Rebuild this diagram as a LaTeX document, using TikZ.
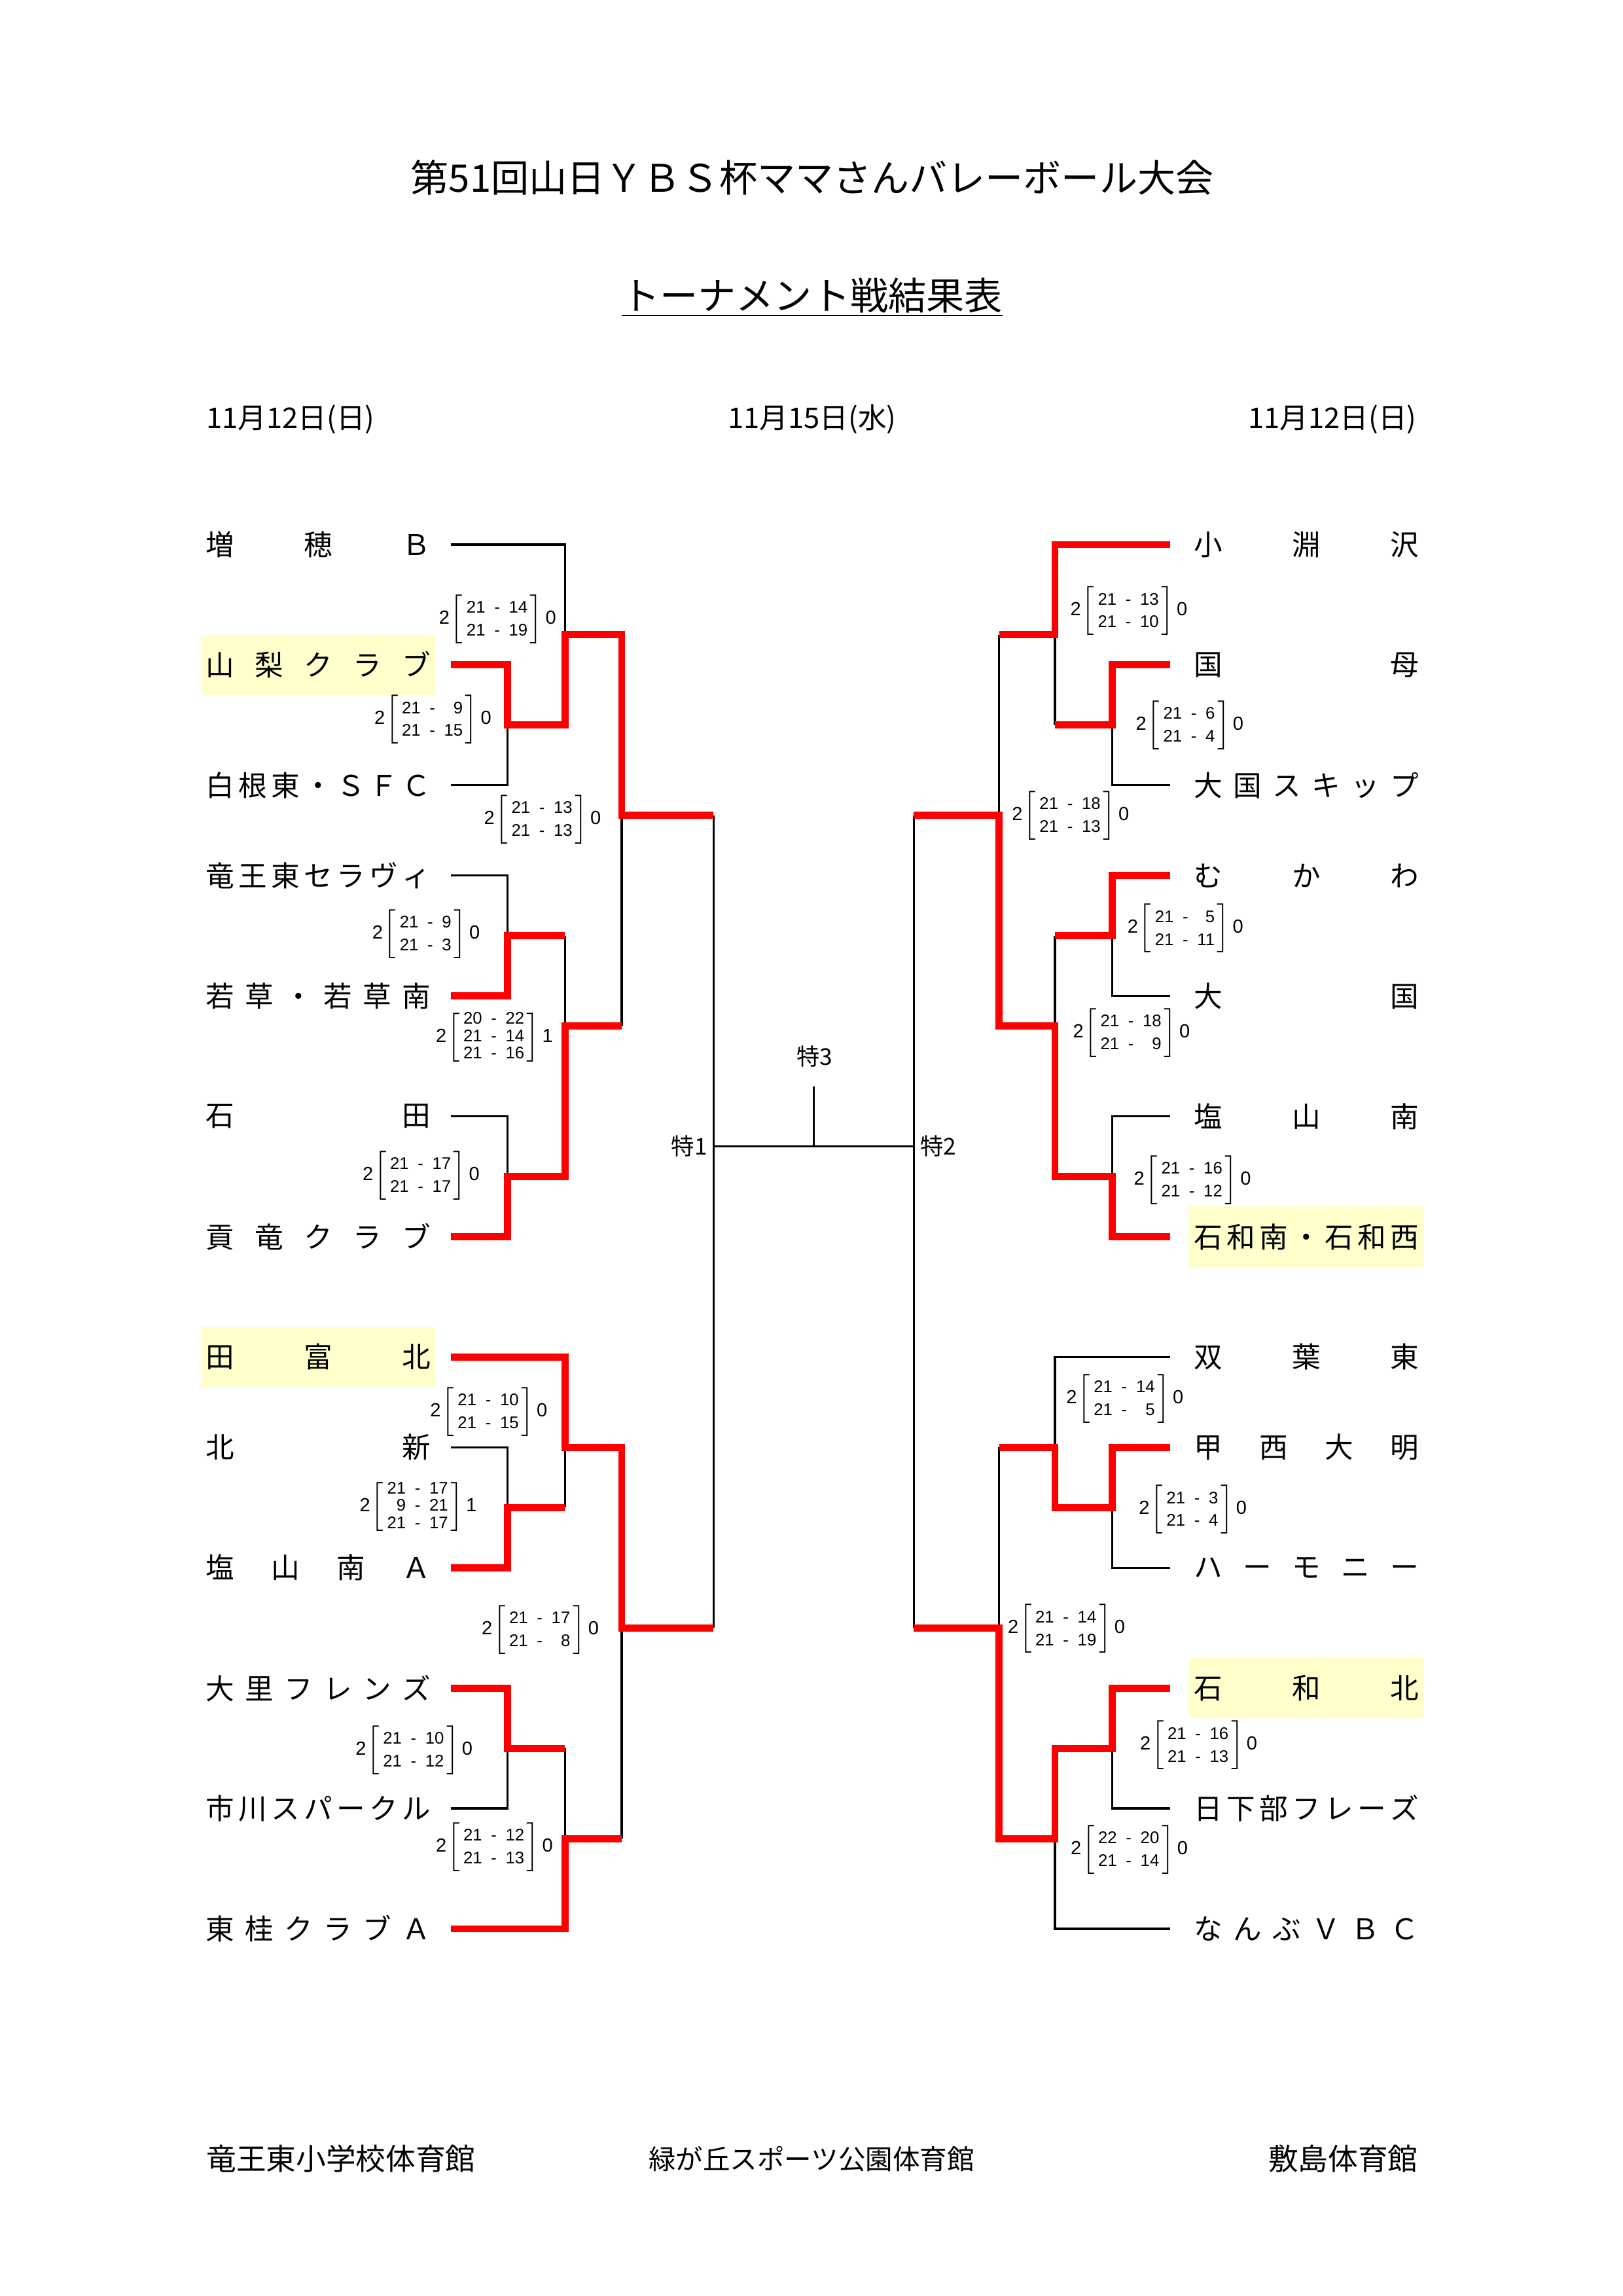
\documentclass[tikz,border=0pt]{standalone}
\usepackage{fontspec}
\setmainfont{Noto Sans CJK JP}
\newfontfamily\scorefont{Liberation Sans}
\definecolor{hl}{HTML}{FFFFCC}
\newcommand\tname[1]{\makebox[29.13mm]{#1}}
\newcommand\gamescore[3][8.4]{2\kern0.2pt$\delimiterfactor=850 \left[\hbox{\fontsize{6.2}{#1}\selectfont\begin{tabular}{@{\hspace{1.3pt}}r@{\hspace{3.3pt}-\hspace{3.3pt}}r@{\hspace{0.9pt}}}#3\end{tabular}}\right]$\kern1pt#2}
\tikzset{
	team/.style={inner xsep=0.67mm, inner ysep=0pt, font=\fontsize{10.5}{12}\selectfont},
	lteam/.style={team, outer xsep=1.88mm},
	rteam/.style={team, outer xsep=2.35mm},
	lwin/.style={lteam, minimum height=7.81mm, fill=hl},
	rwin/.style={rteam, minimum height=7.81mm, fill=hl},
	win/.style={red, line width=2.6pt},
	lose/.style={line width=0.8pt},
	score/.style={inner sep=0pt, font=\scorefont\fontsize{7}{8.4}\selectfont},
	tok/.style={inner sep=0pt, font=\fontsize{8.5}{10}\selectfont},
	datum/.style={inner sep=0pt, font=\fontsize{10.5}{12}\selectfont},
	venue/.style={inner sep=0pt, font=\fontsize{11}{13}\selectfont}
}
\begin{document}
\begin{tikzpicture}[x=0.19039mm, y=-3.8935mm]
	\useasboundingbox (0,-18.093) rectangle (1103,58.2);

	\node[inner sep=0pt, font=\fontsize{14}{17}\selectfont] (title) at (552,-12.2) {第51回山日ＹＢＳ杯ママさんバレーボール大会};
	\node[inner sep=0pt, font=\fontsize{14}{17}\selectfont] (sub) at (552,-8.28) {トーナメント戦結果表};
	\draw[line width=0.6pt] ([yshift=-0.25mm]sub.south west) -- ([yshift=-0.25mm]sub.south east);

	\node[datum, anchor=west] (d1) at (140,-4.16) {11月12日(日)};
	\node[datum] (d2) at (552,-4.16) {11月15日(水)};
	\node[datum, anchor=east] (d3) at (963,-4.16) {11月12日(日)};


	% teams
	\foreach \n/\r/\s/\t in {L1/0/lteam/{増\hfill 穂\hfill Ｂ}, L2/4/lwin/{山\hfill 梨\hfill ク\hfill ラ\hfill ブ},
		L3/8/lteam/{白\hfill 根\hfill 東\hfill ・\hfill Ｓ\hfill Ｆ\hfill Ｃ}, L4/11/lteam/{竜\hfill 王\hfill 東\hfill セ\hfill ラ\hfill ヴ\hfill ィ},
		L5/15/lteam/{若\hfill 草\hfill ・\hfill 若\hfill 草\hfill 南}, L6/19/lteam/{石\hfill 田},
		L7/23/lteam/{貢\hfill 竜\hfill ク\hfill ラ\hfill ブ}, L8/27/lwin/{田\hfill 富\hfill 北},
		L9/30/lteam/{北\hfill 新}, L10/34/lteam/{塩\hfill 山\hfill 南\hfill Ａ},
		L11/38/lteam/{大\hfill 里\hfill フ\hfill レ\hfill ン\hfill ズ}, L12/42/lteam/{市\hfill 川\hfill ス\hfill パ\hfill ー\hfill ク\hfill ル},
		L13/46/lteam/{東\hfill 桂\hfill ク\hfill ラ\hfill ブ\hfill Ａ}}
		\node[\s] (\n) at (216.4,\r) {\tname{\t}};
	\foreach \n/\r/\s/\t in {R1/0/rteam/{小\hfill 淵\hfill 沢}, R2/4/rteam/{国\hfill 母},
		R3/8/rteam/{大\hfill 国\hfill ス\hfill キ\hfill ッ\hfill プ}, R4/11/rteam/{む\hfill か\hfill わ},
		R5/15/rteam/{大\hfill 国}, R6/19/rteam/{塩\hfill 山\hfill 南},
		R7/23/rwin/{石\hfill 和\hfill 南\hfill ・\hfill 石\hfill 和\hfill 西}, R8/27/rteam/{双\hfill 葉\hfill 東},
		R9/30/rteam/{甲\hfill 西\hfill 大\hfill 明}, R10/34/rteam/{ハ\hfill ー\hfill モ\hfill ニ\hfill ー},
		R11/38/rwin/{石\hfill 和\hfill 北}, R12/42/rteam/{日\hfill 下\hfill 部\hfill フ\hfill レ\hfill ー\hfill ズ},
		R13/46/rteam/{な\hfill ん\hfill ぶ\hfill Ｖ\hfill Ｂ\hfill Ｃ}}
		\node[\s] (\n) at (887.8,\r) {\tname{\t}};


	% left bracket
	\draw[lose] (L1.east) -| (384,3);
	\draw[lose] (L3.east) -| (345,6);
	\draw[lose] (L4.east) -| (345,13);
	\draw[lose] (384,13) -- (384,16);
	\draw[lose] (L6.east) -| (345,21);
	\draw[lose] (422.5,9) -- (422.5,16);
	\draw[lose] (L9.east) -| (345,32);
	\draw[lose] (384,30) -- (384,32);
	\draw[lose] (L12.east) -| (345,40);
	\draw[lose] (384,40) -- (384,43);
	\draw[lose] (422.5,36) -- (422.5,43);
	\draw[lose] (485,9) -- (485,36);

	\draw[win] (L2.east) -| (345,6) -| (384,3) -| (422.5,9) -- (485,9);
	\draw[win] (L5.east) -| (345,13) -- (384,13);
	\draw[win] (L7.east) -| (345,21) -| (384,16) -- (422.5,16);
	\draw[win] (L8.east) -| (384,30) -| (422.5,36) -- (485,36);
	\draw[win] (L10.east) -| (345,32) -- (384,32);
	\draw[win] (L11.east) -| (345,40) -- (384,40);
	\draw[win] (L13.east) -| (384,43) -- (422.5,43);


	% right bracket
	\draw[lose] (R3.west) -| (756,6);
	\draw[lose] (717,3) -- (717,6);
	\draw[lose] (679,3) -- (679,9);
	\draw[lose] (R5.west) -| (756,13);
	\draw[lose] (717,13) -- (717,16);
	\draw[lose] (R6.west) -| (756,21);
	\draw[lose] (R8.west) -| (717,30);
	\draw[lose] (R10.west) -| (756,32);
	\draw[lose] (679,30) -- (679,36);
	\draw[lose] (R12.west) -| (756,40);
	\draw[lose] (R13.west) -| (717,43);
	\draw[lose] (621,9) -- (621,36);

	\draw[win] (R1.west) -| (717,3) -- (679,3);
	\draw[win] (R2.west) -| (756,6) -- (717,6);
	\draw[win] (R4.west) -| (756,13) -- (717,13);
	\draw[win] (R7.west) -| (756,21) -| (717,16) -| (679,9) -- (621,9);
	\draw[win] (R9.west) -| (756,32) -| (717,30) -- (679,30);
	\draw[win] (R11.west) -| (756,40) -| (717,43) -| (679,36) -- (621,36);


	% centre
	\coordinate (c1) at (485,20);
	\coordinate (c2) at (621,20);
	\coordinate (c3) at (553,18);
	\draw[lose] (c1) -- (c2);
	\draw[lose] (c3) -- (c3 |- c1);
	\node[tok, anchor=east] (k1) at (481,20) {特1};
	\node[tok, anchor=west] (k2) at (625,20) {特2};
	\node[tok] (k3) at (553.6,17) {特3};


	% scores
	\node[score] (s1) at (338.2,2.48) {\gamescore{0}{21&14\\21&19}};
	\node[score] (s2) at (294.2,5.82) {\gamescore{0}{21&9\\21&15}};
	\node[score] (s3) at (368.7,9.13) {\gamescore{0}{21&13\\21&13}};
	\node[score] (s4) at (289.6,12.95) {\gamescore{0}{21&9\\21&3}};
	\node[score] (s5) at (336,16.4) {\gamescore[6.4]{1}{20&22\\21&14\\21&16}};
	\node[score] (s6) at (286.2,20.97) {\gamescore{0}{21&17\\21&17}};
	\node[score] (s7) at (332.2,28.82) {\gamescore{0}{21&10\\21&15}};
	\node[score] (s8) at (284.2,32) {\gamescore[6.4]{1}{21&17\\9&21\\21&17}};
	\node[score] (s9) at (367.2,36.06) {\gamescore{0}{21&17\\21&8}};
	\node[score] (s10) at (281.4,40.06) {\gamescore{0}{21&10\\21&12}};
	\node[score] (s11) at (336,43.28) {\gamescore{0}{21&12\\21&13}};

	\node[score] (t1) at (767.2,2.21) {\gamescore{0}{21&13\\21&10}};
	\node[score] (t2) at (808.5,6.01) {\gamescore{0}{21&6\\21&4}};
	\node[score] (t3) at (727.6,9) {\gamescore{0}{21&18\\21&13}};
	\node[score] (t4) at (805.6,12.76) {\gamescore{0}{21&5\\21&11}};
	\node[score] (t5) at (769,16.23) {\gamescore{0}{21&18\\21&9}};
	\node[score] (t6) at (810.4,21.12) {\gamescore{0}{21&16\\21&12}};
	\node[score] (t7) at (764.5,28.39) {\gamescore{0}{21&14\\21&5}};
	\node[score] (t8) at (810.7,32.07) {\gamescore{0}{21&3\\21&4}};
	\node[score] (t9) at (724.8,36.03) {\gamescore{0}{21&14\\21&19}};
	\node[score] (t10) at (814.6,39.9) {\gamescore{0}{21&16\\21&13}};
	\node[score] (t11) at (767.5,43.37) {\gamescore{0}{22&20\\21&14}};


	\node[venue, anchor=west] (v1) at (140,53.64) {竜王東小学校体育館};
	\node[venue, font=\fontsize{10}{12}\selectfont] (v2) at (551.5,53.64) {緑が丘スポーツ公園体育館};
	\node[venue, anchor=east] (v3) at (964,53.64) {敷島体育館};
\end{tikzpicture}
\end{document}
